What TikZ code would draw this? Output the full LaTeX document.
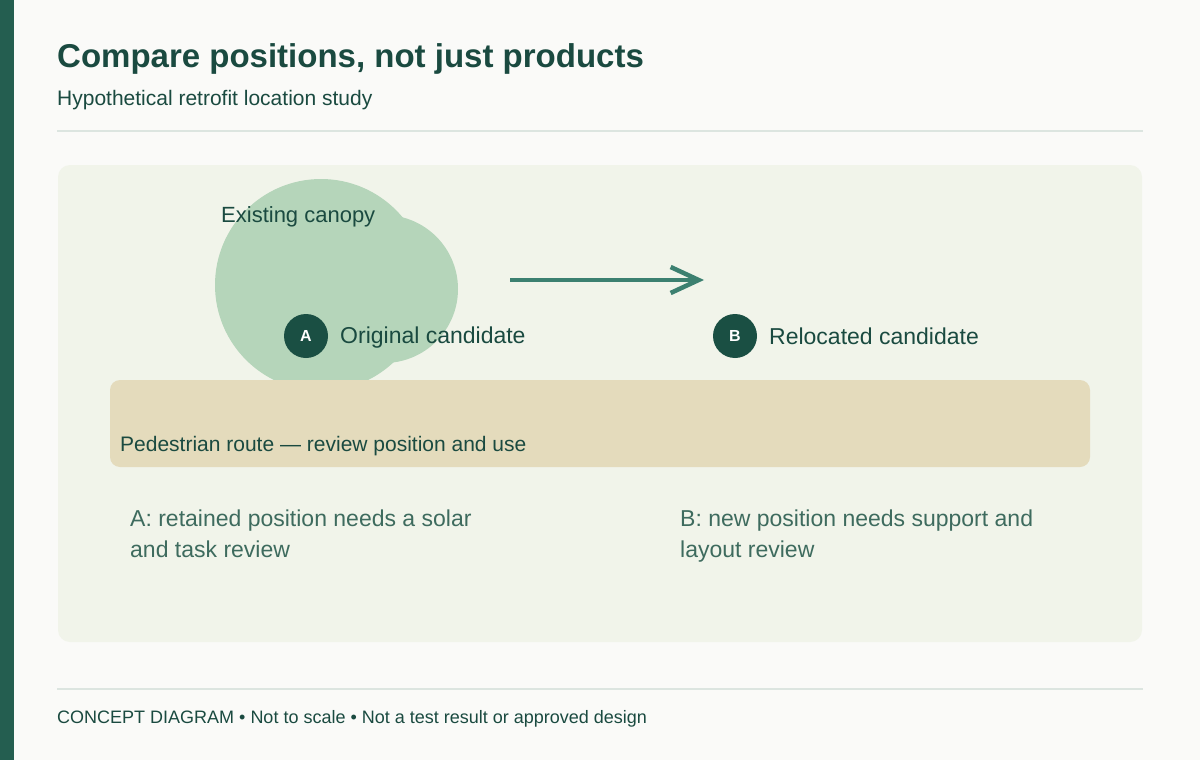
\documentclass[tikz,border=0pt]{standalone}
\usepackage{fontspec}
\setmainfont{Liberation Sans}
\usetikzlibrary{arrows.meta}
\definecolor{bg}{HTML}{FAFAF8}
\definecolor{bar}{HTML}{245E50}
\definecolor{ink}{HTML}{1A4A40}
\definecolor{rule}{HTML}{DCE5E0}
\definecolor{panel}{HTML}{F1F4EA}
\definecolor{canopy}{HTML}{B5D5BA}
\definecolor{marker}{HTML}{1A4F43}
\definecolor{arrowc}{HTML}{3C8070}
\definecolor{route}{HTML}{E4DBBC}
\definecolor{note}{HTML}{3E6B5E}
\tikzset{
  txt/.style={anchor=base west, inner sep=0pt, text=ink},
  markerdot/.style={circle, fill=marker, minimum size=44pt, inner sep=0pt, text=white, font=\fontsize{16}{18}\selectfont\bfseries},
  notetxt/.style={anchor=base west, inner sep=0pt, text=note, font=\fontsize{23}{31}\selectfont, align=left},
}
\begin{document}
\begin{tikzpicture}[x=1pt,y=-1pt]
\useasboundingbox (0,0) rectangle (1200,760);
\fill[bg] (0,0) rectangle (1200,760);
\fill[bar] (0,0) rectangle (14,760);
% header
\node[txt, font=\fontsize{33}{38}\selectfont\bfseries] (title) at (57,67) {Compare positions, not just products};
\node[txt, font=\fontsize{21}{24}\selectfont] (sub) at (57,105) {Hypothetical retrofit location study};
\draw[rule, line width=2pt] (57,131) -- (1143,131);
% panel
\fill[panel, rounded corners=12pt] (58,165) rectangle (1142,642);
% canopy
\fill[canopy] (321,285) circle (106);
\fill[canopy] (384,289) circle (74);
\node[txt, font=\fontsize{22}{26}\selectfont] (canopylbl) at (221,222) {Existing canopy};
% route
\fill[route, rounded corners=10pt] (110,380) rectangle (1090,467);
\node[txt, font=\fontsize{21}{24}\selectfont] (routelbl) at (120,451) {Pedestrian route — review position and use};
% markers
\node[markerdot] (A) at (306,336) {A};
\node[txt, font=\fontsize{23}{26}\selectfont] (Albl) at (340,343) {Original candidate};
\node[markerdot] (B) at (735,336) {B};
\node[txt, font=\fontsize{23}{26}\selectfont] (Blbl) at (769,344) {Relocated candidate};
% arrow
\coordinate (arrS) at (510,280);
\coordinate (arrE) at (704,280);
\draw[arrowc, line width=4.5pt, -{Straight Barb[length=28pt,width=26pt,line join=miter]}] (arrS) -- (arrE);
% notes
\node[notetxt] (noteA) at (130,557) {A: retained position needs a solar\\and task review};
\node[notetxt] (noteB) at (680,557) {B: new position needs support and\\layout review};
% footer
\draw[rule, line width=2pt] (57,689) -- (1143,689);
\node[txt, font=\fontsize{18}{20}\selectfont] (foot) at (57,723) {CONCEPT DIAGRAM • Not to scale • Not a test result or approved design};
\end{tikzpicture}
\end{document}
